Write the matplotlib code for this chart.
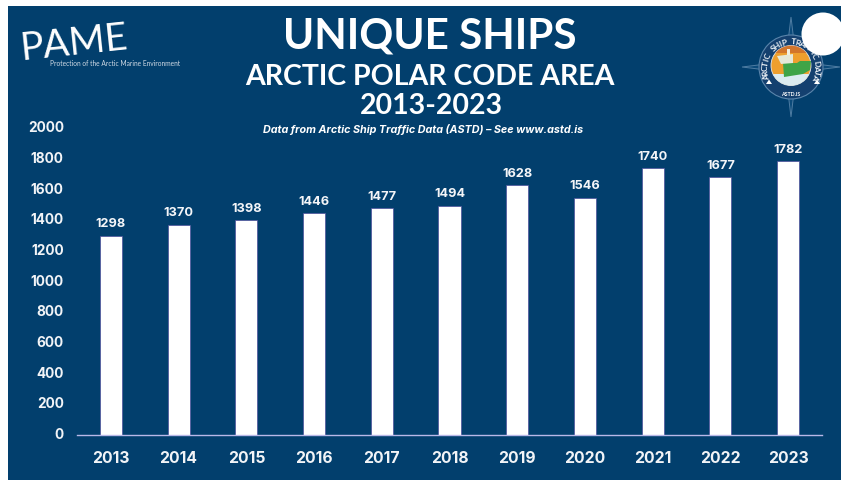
import numpy as np
import matplotlib
matplotlib.use("Agg")
import matplotlib.pyplot as plt
from matplotlib.patches import Rectangle, Circle, Polygon
from matplotlib.transforms import ScaledTranslation

years = ["2013", "2014", "2015", "2016", "2017", "2018", "2019", "2020", "2021", "2022", "2023"]
ships = [1298, 1370, 1398, 1446, 1477, 1494, 1628, 1546, 1740, 1677, 1782]
y_ticks = [0, 200, 400, 600, 800, 1000, 1200, 1400, 1600, 1800, 2000]

W, H = 841, 481
NAVY = "#023f6d"
fig = plt.figure(figsize=(W / 100, H / 100), dpi=100, facecolor="white")

# Full-figure overlay addressed in pixels, origin at the top left
bg = fig.add_axes([0, 0, 1, 1], zorder=0)
bg.set_xlim(0, W)
bg.set_ylim(H, 0)
bg.axis("off")
bg.add_patch(Rectangle((8, 7), W - 8, H - 7, fc=NAVY, ec="none"))

# Bar chart
ax = fig.add_axes([77 / W, 1 - 435.5 / H, 745 / W, 306.5 / H], zorder=1)
ax.patch.set_alpha(0)
x = np.arange(len(years))
bars = ax.bar(x, ships, width=0.325, color="white", edgecolor="#4a4e9a", linewidth=0.5)
ax.set_xlim(-0.5, len(years) - 0.5)
ax.set_ylim(0, 2000)
for s in ("top", "left", "right"):
    ax.spines[s].set_visible(False)
ax.spines["bottom"].set_color("#b9b8e8")
ax.spines["bottom"].set_linewidth(1.0)
ax.set_xticks(x, years)
ax.set_yticks(y_ticks)
ax.tick_params(length=0)
ax.tick_params(axis="x", pad=11, labelsize=11.3, labelcolor="#f2f4f7")
ax.tick_params(axis="y", pad=9.5, labelsize=9.8, labelcolor="#f2f4f7")
for t in ax.get_xticklabels() + ax.get_yticklabels():
    t.set_family("Inter")
    t.set_fontweight("bold")
# Nudge the value axis labels slightly above their tick positions
lift = ScaledTranslation(0, 2 / 100, fig.dpi_scale_trans)
for tick in ax.yaxis.get_major_ticks():
    tick.label1.set_verticalalignment("center_baseline")
    tick.label1.set_transform(tick.label1.get_transform() + lift)
for xi, v in zip(x, ships):
    ax.annotate(str(v), (xi, v), xytext=(0, 4.5), textcoords="offset points",
                ha="center", va="bottom", color="#f4f5f8", fontsize=9.2,
                fontweight="bold", family="Inter")

# Headings
fg = fig.add_axes([0, 0, 1, 1], zorder=2)
fg.set_xlim(0, W)
fg.set_ylim(H, 0)
fg.axis("off")
fg.text(430, 37, "UNIQUE SHIPS", ha="center", va="center", color="white",
        fontsize=30.4, fontweight="bold", family="Lato")
fg.text(430, 77, "ARCTIC POLAR CODE AREA", ha="center", va="center", color="white",
        fontsize=20.5, fontweight="bold", family="Lato")
fg.text(431, 106, "2013-2023", ha="center", va="center", color="white",
        fontsize=20.5, fontweight="bold", family="Lato")
fg.text(423, 130, "Data from Arctic Ship Traffic Data (ASTD) \u2013 See www.astd.is",
        ha="center", va="center", color="white", fontsize=7.75,
        fontweight="bold", fontstyle="italic", family="Inter")

# PAME wordmark
fg.text(22, 60, "PAME", ha="left", va="baseline", color="white", fontsize=28,
        family="Lato", rotation=6, rotation_mode="anchor")
fg.text(50, 64, "Protection of the Arctic Marine Environment", ha="left", va="center",
        color="#cfd9e4", fontsize=4.8, family="Lato")

# ASTD emblem: compass star, ring and ship
cx, cy = 791, 68
star_col = "#4f7da3"
for dx, dy, px, py in [(0, -50, 6, 0), (0, 50, 6, 0), (-49, 0, 0, 6), (49, 0, 0, 6)]:
    fg.add_patch(Polygon([(cx - px, cy - py), (cx + dx, cy + dy), (cx + px, cy + py)],
                         fc="#0b4a7a", ec=star_col, lw=0.7))
fg.add_patch(Circle((cx, cy), 32, fc="#14406f", ec="#5b85ab", lw=0.8))

# Sunset disc with sea below; the bands are clipped to the disc
disc = Circle((791, 66.5), 20, fc="#ee9f2e", ec="#dfe7ee", lw=0.6)
fg.add_patch(disc)
sky = Rectangle((770, 46), 42, 8, fc="#c9682b", ec="none", alpha=0.75)
sea = Rectangle((770, 75), 42, 13, fc="#dcebf0", ec="none")
for band in (sky, sea):
    fg.add_patch(band)
    band.set_clip_path(disc)
fg.add_patch(Polygon([(783, 64), (797, 64), (800, 62), (811, 62), (810, 71), (803, 75),
                      (784, 78)], fc="#3fa447", ec="none"))
fg.add_patch(Polygon([(777, 57), (793, 55), (793, 64), (781, 65)], fc="#e6e8d8", ec="none"))
fg.add_patch(Rectangle((787, 50), 3, 6, fc="#f0efe2", ec="none"))

ring_text = "ARCTIC SHIP TRAFFIC DATA"
r = 26
for ch, a in zip(ring_text, np.radians(np.linspace(200, -20, len(ring_text)))):
    fg.text(cx + r * np.cos(a), cy - r * np.sin(a), ch, color="#eef3f7", fontsize=6,
            fontweight="bold", ha="center", va="center", family="Lato",
            rotation=np.degrees(a) - 90, rotation_mode="anchor")
for tx in (769, 817):
    fg.add_patch(Polygon([(tx - 3, 85), (tx, 80.5), (tx + 3, 85)], fc="white", ec="none"))
fg.text(cx, 95, "ASTD.IS", color="white", fontsize=3.8, fontweight="bold",
        ha="center", va="center", family="Lato")

# Plain white disc in the top right corner
fg.add_patch(Circle((823, 35), 21.5, fc="white", ec="none", zorder=5))

fig.savefig("out.png", dpi=100, facecolor=fig.get_facecolor())
